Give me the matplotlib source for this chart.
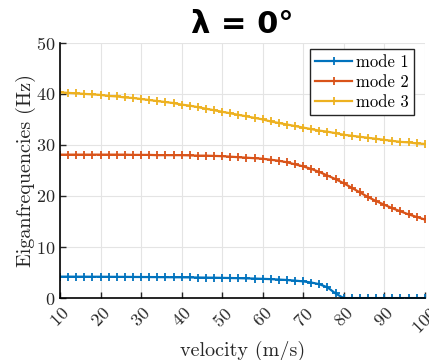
import numpy as np
import matplotlib
matplotlib.use('Agg')
import matplotlib.pyplot as plt

# velocity grid and the three modes
velocity = np.arange(10, 101, 2)

mode1 = [4.20, 4.20, 4.19, 4.19, 4.18, 4.18, 4.17, 4.16, 4.15, 4.14,
         4.13, 4.12, 4.11, 4.10, 4.08, 4.07, 4.05, 4.03, 4.01, 3.99,
         3.96, 3.93, 3.90, 3.86, 3.82, 3.77, 3.71, 3.63, 3.54, 3.42,
         3.27, 3.05, 2.72, 2.10, 0.90, 0.0, 0.0, 0.0, 0.0, 0.0,
         0.0, 0.0, 0.0, 0.0, 0.0, 0.0]
mode2 = [28.1, 28.1, 28.1, 28.1, 28.1, 28.1, 28.1, 28.1, 28.1, 28.05,
         28.05, 28.05, 28.0, 28.0, 28.0, 28.0, 27.95, 27.9, 27.9, 27.85,
         27.8, 27.7, 27.6, 27.5, 27.4, 27.3, 27.1, 26.9, 26.6, 26.2,
         25.8, 25.3, 24.7, 24.0, 23.3, 22.5, 21.6, 20.7, 19.8, 19.0,
         18.3, 17.6, 17.0, 16.4, 15.9, 15.4]
mode3 = [40.3, 40.2, 40.1, 40.0, 39.9, 39.8, 39.6, 39.5, 39.3, 39.2,
         39.0, 38.8, 38.6, 38.4, 38.2, 37.9, 37.7, 37.4, 37.1, 36.8,
         36.5, 36.2, 35.9, 35.6, 35.3, 35.0, 34.6, 34.3, 34.0, 33.7,
         33.4, 33.1, 32.8, 32.6, 32.3, 32.0, 31.8, 31.6, 31.4, 31.2,
         31.0, 30.8, 30.6, 30.5, 30.3, 30.2]

labels = ['mode 1', 'mode 2', 'mode 3']
colors = ['#0072BD', '#D95319', '#EDB120']

plt.rcParams['font.family'] = 'cmr10'
plt.rcParams['mathtext.fontset'] = 'cm'
plt.rcParams['axes.formatter.use_mathtext'] = True

fig = plt.figure(figsize=(4.29, 3.6), dpi=100)
ax = fig.add_axes([0.14, 0.172, 0.85, 0.709])

for y, lab, c in zip([mode1, mode2, mode3], labels, colors):
    ax.plot(velocity, y, color=c, lw=1.6, marker='+', ms=6, mew=1.3, label=lab)

ax.set_xlim(10, 100)
ax.set_ylim(0, 50)
ax.set_xticks(np.arange(10, 101, 10))
ax.set_yticks(np.arange(0, 51, 10))
ax.tick_params(direction='in', length=4, width=1, labelsize=13, colors='#262626')
ax.tick_params(axis='x', pad=5)
for lbl in ax.get_xticklabels():
    lbl.set_rotation(45)
ax.grid(True, color='#e4e4e4', lw=0.8)
ax.set_axisbelow(True)
ax.spines['top'].set_visible(False)
ax.spines['right'].set_visible(False)
ax.spines['left'].set_linewidth(1.2)
ax.spines['bottom'].set_linewidth(1.2)

ax.set_xlabel('velocity (m/s)', fontsize=14.5, color='#262626', labelpad=3)
ax.set_ylabel('Eiganfrequencies (Hz)', fontsize=14.5, color='#262626', labelpad=0)
ax.set_title('λ = 0°', fontsize=22, fontweight='bold', family='DejaVu Sans', pad=7)

leg = ax.legend(loc='upper right', bbox_to_anchor=(0.97, 0.975), fontsize=12,
                fancybox=False, framealpha=1, edgecolor='#262626',
                handlelength=2.2, borderpad=0.3, labelspacing=0.3,
                handletextpad=0.25, borderaxespad=0)
leg.get_frame().set_linewidth(1.0)

fig.savefig('out.png', dpi=100)
